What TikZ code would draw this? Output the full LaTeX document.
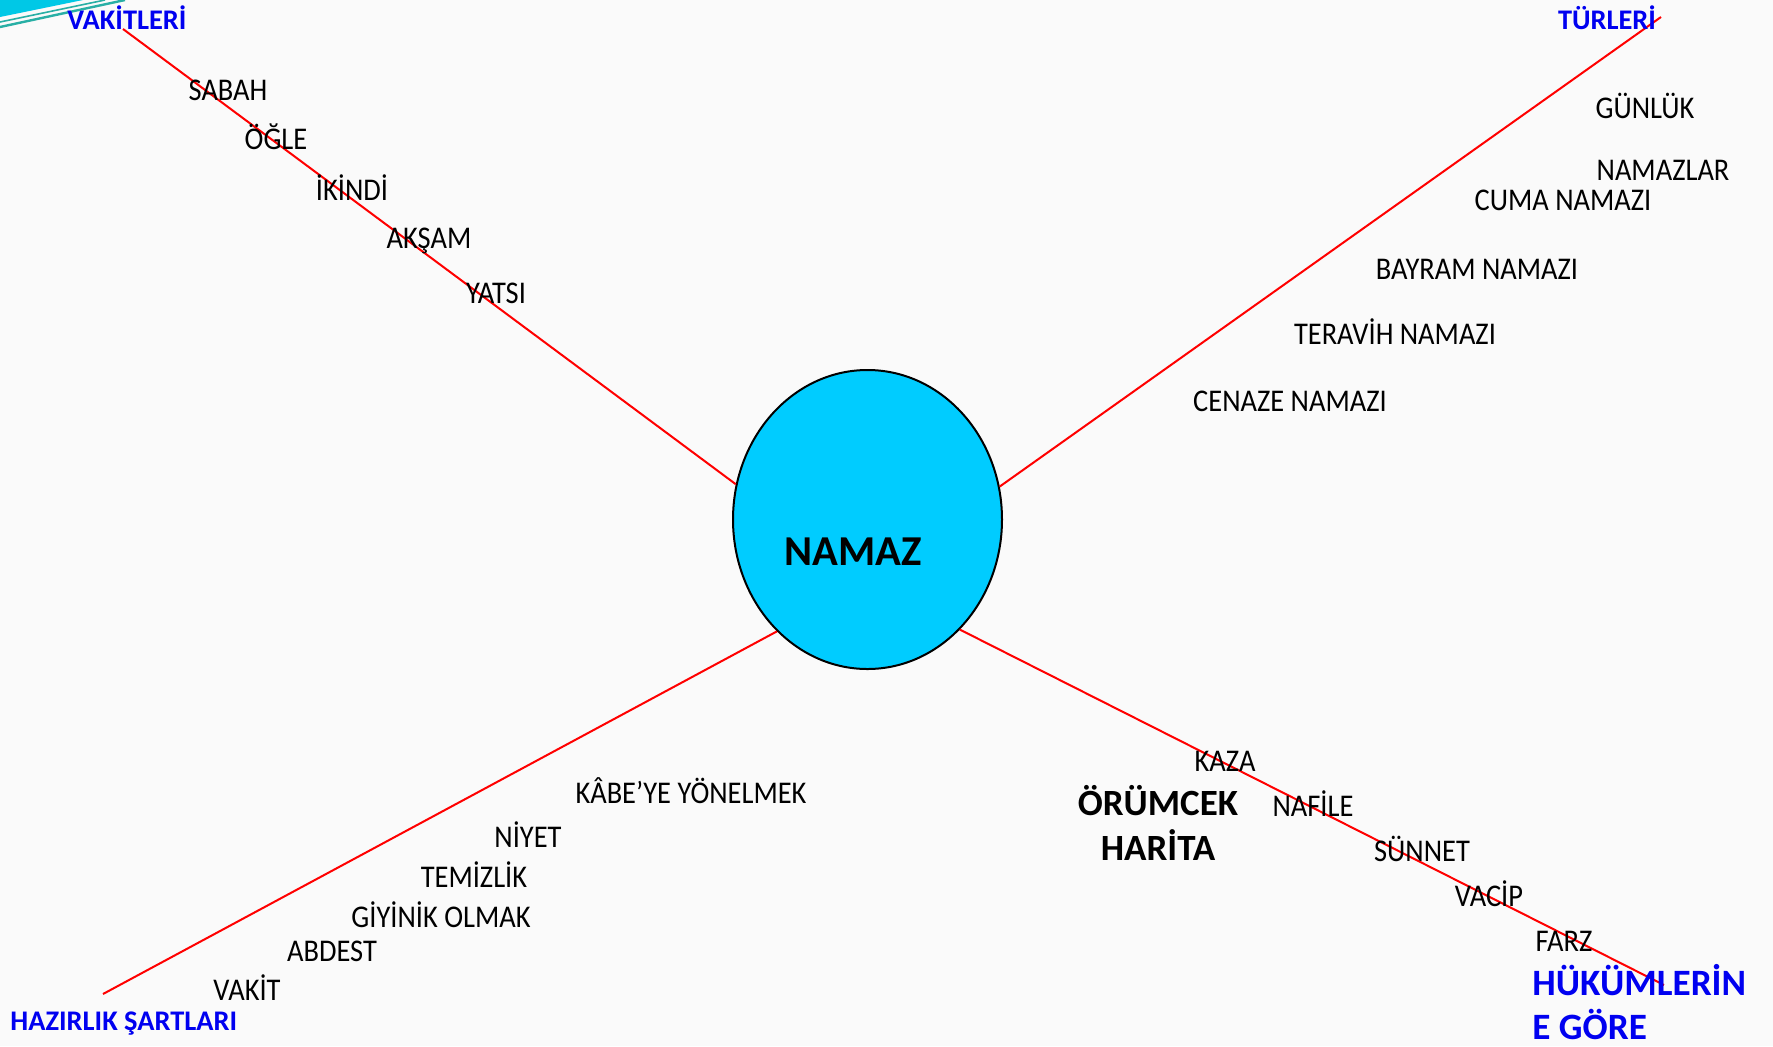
\documentclass[tikz,border=0pt]{standalone}
\usepackage{fontspec}
\setmainfont{Carlito}
\newfontfamily\condfont{Carlito}[FakeStretch=0.9]
\usetikzlibrary{shapes.geometric}
\definecolor{lblblue}{RGB}{0,0,240}
\definecolor{hubcyan}{RGB}{0,204,255}
\definecolor{bggray}{RGB}{250,250,250}
\definecolor{tealline}{RGB}{40,175,165}
\definecolor{cornercyan}{RGB}{0,200,230}
\begin{document}
\begin{tikzpicture}[x=0.5pt,y=-0.5pt,
  item/.style={font=\condfont\fontsize{15.8pt}{18pt}\selectfont, inner sep=0, anchor=base},
  head/.style={font=\bfseries\fontsize{14.2pt}{17pt}\selectfont, text=lblblue, inner sep=0, anchor=base},
  bighead/.style={font=\bfseries\fontsize{18.6pt}{20pt}\selectfont, text=lblblue, inner sep=0, anchor=base west},
  title/.style={font=\bfseries\fontsize{18.5pt}{20pt}\selectfont, inner sep=0, anchor=base},
  spoke/.style={red, line width=1pt},
  hub/.style={ellipse, draw=black, line width=1pt, fill=hubcyan, minimum width=134.5pt, minimum height=149.5pt, inner sep=0}]
\fill[bggray] (0,0) rectangle (1773,1046);
\useasboundingbox (0,0) rectangle (1773,1046);
% corner decoration
\fill[cornercyan] (0,0) -- (83,0) -- (0,17) -- cycle;
\draw[tealline, line width=1.2pt] (0,27) -- (125,0);
\draw[tealline, line width=0.8pt] (0,22) -- (105,0);

% hub
\node[hub] (namaz) at (867.5,519.5) {};
\node[font=\bfseries\fontsize{21.3pt}{24pt}\selectfont, inner sep=0, anchor=base] (namaztxt) at (853,565) {NAMAZ};

% free ends
\coordinate (tl) at (123,29);
\coordinate (tr) at (1661,17);
\coordinate (bl) at (103,994);
\coordinate (br) at (1664,985);

\draw[spoke] (tl) -- (namaz.165.2);
\draw[spoke] (tr) -- (namaz.14.6);
\draw[spoke] (bl) -- (namaz.231.5);
\draw[spoke] (br) -- (namaz.310.3);

% top-left
\node[head] (vakitleri) at (127,29) {VAKİTLERİ};
\node[item] (sabah) at (228,100) {SABAH};
\node[item] (ogle) at (276,149) {ÖĞLE};
\node[item] (ikindi) at (352,200) {İKİNDİ};
\node[item] (aksam) at (429,248) {AKŞAM};
\node[item] (yatsi) at (496,303) {YATSI};

% top-right
\node[head] (turleri) at (1607,29) {TÜRLERİ};
\node[item] (gunluk) at (1645,118) {GÜNLÜK};
\node[item] (namazlar) at (1663,180) {NAMAZLAR};
\node[item] (cuma) at (1563,210) {CUMA NAMAZI};
\node[item] (bayram) at (1477,279) {BAYRAM NAMAZI};
\node[item] (teravih) at (1395,344) {TERAVİH NAMAZI};
\node[item] (cenaze) at (1290,411) {CENAZE NAMAZI};

% bottom-left
\node[item] (kabe) at (691,803) {KÂBE’YE YÖNELMEK};
\node[item] (niyet) at (528,847) {NİYET};
\node[item] (temizlik) at (474,887) {TEMİZLİK};
\node[item] (giyinik) at (441,927) {GİYİNİK OLMAK};
\node[item] (abdest) at (332,961) {ABDEST};
\node[item] (vakit) at (247,1000) {VAKİT};
\node[head, anchor=base west] (hazirlik) at (10,1030) {HAZIRLIK ŞARTLARI};

% bottom-right
\node[item] (kaza) at (1225,771) {KAZA};
\node[title] (orumcek) at (1158,815) {ÖRÜMCEK};
\node[title] (harita) at (1158,860) {HARİTA};
\node[item] (nafile) at (1313,816) {NAFİLE};
\node[item] (sunnet) at (1422,861) {SÜNNET};
\node[item] (vacip) at (1489,906) {VACİP};
\node[item] (farz) at (1564,951) {FARZ};
\node[bighead] (hukum1) at (1532,995) {HÜKÜMLERİN};
\node[bighead] (hukum2) at (1532,1039) {E GÖRE};
\end{tikzpicture}
\end{document}
